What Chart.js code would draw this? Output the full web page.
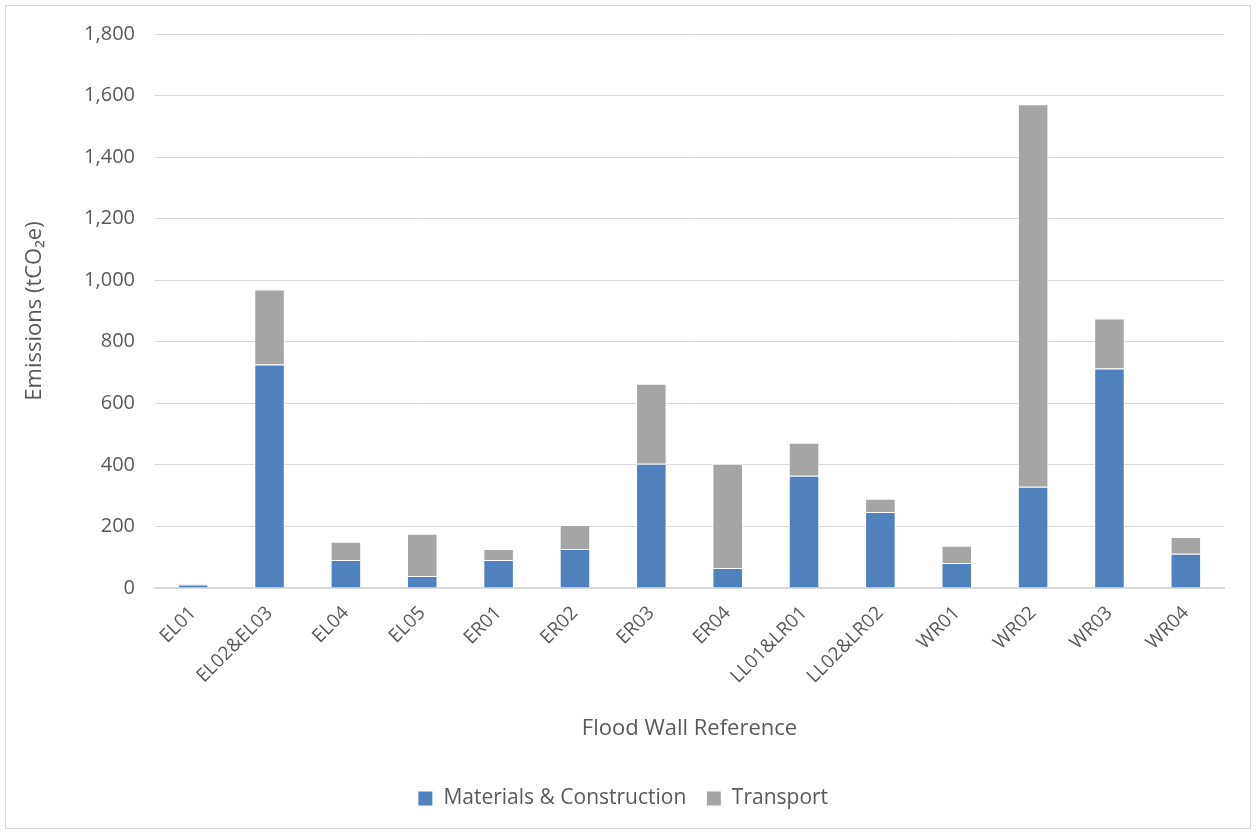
<!DOCTYPE html>
<html>
<head>
<meta charset="utf-8">
<script src="https://cdn.jsdelivr.net/npm/chart.js@4/dist/chart.umd.min.js"></script>
<style>
  html, body { margin: 0; padding: 0; background: #fff; }
  #wrap { position: absolute; left: 5px; top: 5px; width: 1244px; height: 822px; border: 1px solid #d9d9d9; }
  canvas { display: block; }
</style>
</head>
<body>
<div id="wrap"><canvas id="chart" width="1244" height="822"></canvas></div>
<script>
// flood wall emissions, tCO2e
const walls = ["EL01", "EL02&EL03", "EL04", "EL05", "ER01", "ER02", "ER03", "ER04",
  "LL01&LR01", "LL02&LR02", "WR01", "WR02", "WR03", "WR04"];
const materials = [11, 726, 91, 39, 91, 127, 404, 65, 365, 247, 81, 329, 713, 111];
const transport = [4, 244, 59, 137, 36, 78, 260, 339, 107, 43, 56, 1243, 163, 55];
const yTicks = [0, 200, 400, 600, 800, 1000, 1200, 1400, 1600, 1800];

const fontName = "'Open Sans', 'Liberation Sans', sans-serif";
const grey = "#595959";

new Chart(document.getElementById("chart"), {
  type: "bar",
  data: {
    labels: walls,
    datasets: [
      { label: "Materials & Construction", data: materials, backgroundColor: "#4f81bd",
        borderColor: "#ffffff", borderWidth: 1, barPercentage: 0.4, categoryPercentage: 1 },
      { label: "Transport", data: transport, backgroundColor: "#a5a5a5",
        borderColor: "#ffffff", borderWidth: 1, barPercentage: 0.4, categoryPercentage: 1 }
    ]
  },
  options: {
    responsive: false,
    animation: false,
    layout: { padding: { left: 16, right: 26, top: 28, bottom: 9 } },
    plugins: {
      legend: {
        position: "bottom",
        labels: { color: grey, font: { family: fontName, size: 21 }, boxWidth: 15, boxHeight: 15, padding: 20 }
      },
      tooltip: { enabled: false }
    },
    scales: {
      x: {
        stacked: true,
        grid: { display: false },
        border: { color: "#d9d9d9", width: 2 },
        ticks: { color: grey, font: { family: fontName, size: 19 }, maxRotation: 45, minRotation: 45, padding: 6 },
        title: { display: true, text: "Flood Wall Reference", color: grey, font: { family: fontName, size: 22 }, padding: { top: 0, bottom: 26 } },
        afterFit: axis => { axis.height = 180; }
      },
      y: {
        stacked: true,
        min: 0, max: 1800,
        afterBuildTicks: axis => { axis.ticks = yTicks.map(v => ({ value: v })); },
        grid: { color: "#d9d9d9", drawTicks: false },
        border: { display: false },
        ticks: { color: grey, font: { family: fontName, size: 20 }, padding: 20,
          callback: v => v.toLocaleString("en-US") },
        title: { display: true, text: "Emissions (tCO\u2082e)", color: grey, font: { family: fontName, size: 22 }, padding: { top: 0, bottom: 0 } },
        afterFit: axis => { axis.width = 133; axis.paddingTop = 0; axis.paddingBottom = 0; }
      }
    }
  }
});
</script>
</body>
</html>
